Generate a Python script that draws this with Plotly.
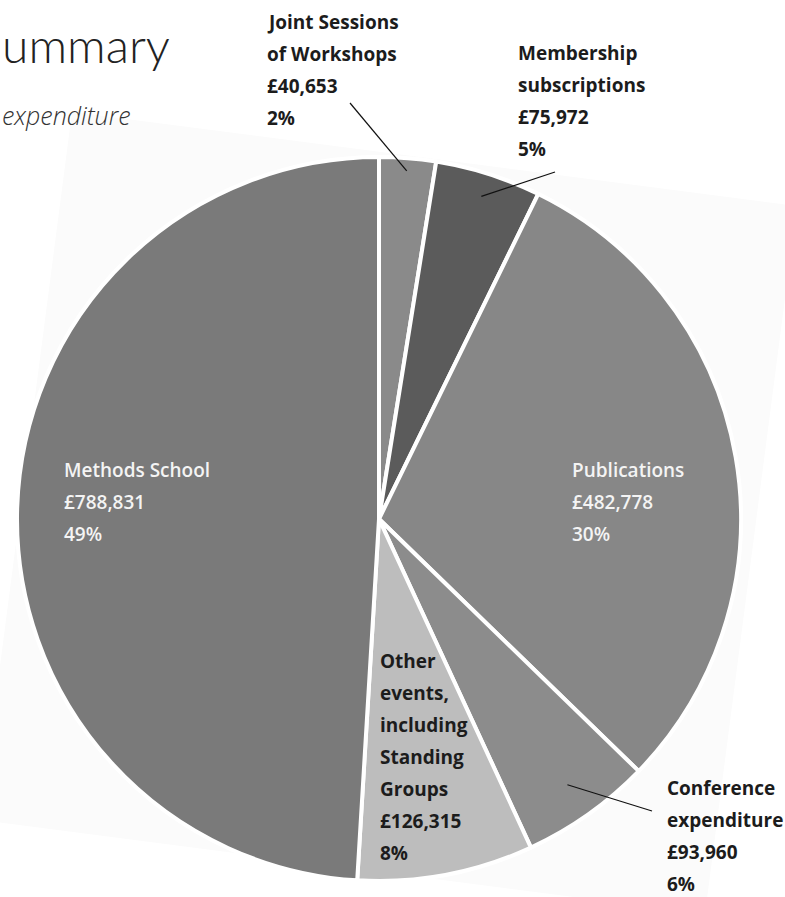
import math
import plotly.graph_objects as go

W, H = 785, 897

# ---- data ----
categories = [
    "Joint Sessions of Workshops",
    "Membership subscriptions",
    "Publications",
    "Conference expenditure",
    "Other events, including Standing Groups",
    "Methods School",
]
label_lines = [
    ["Joint Sessions", "of Workshops"],
    ["Membership", "subscriptions"],
    ["Publications"],
    ["Conference", "expenditure"],
    ["Other", "events,", "including", "Standing", "Groups"],
    ["Methods School"],
]
amounts = [40653, 75972, 482778, 93960, 126315, 788831]
percent_labels = [2, 5, 30, 6, 8, 49]

# ---- styling ----
slice_colors = ["#8a8a8a", "#5b5b5b", "#878787", "#8c8c8c", "#bdbdbd", "#7a7a7a"]
label_inside = [False, False, True, False, False, True]
# left edge / first-line centre of each label block (pixels from top-left)
label_pos = [(265, 22), (516, 53), (570, 470), (665, 788), (378, 661), (62, 470)]
# leader lines: outer end near the label, inner end placed on the slice's mid-angle
leader_outer = {0: (350, 103), 1: (555, 172), 3: (652, 811)}
leader_depth = {0: 0.965, 1: 0.935, 3: 0.90}
LINE_STEP = 32

CX, CY, R = 379, 519, 362
FONT = "Open Sans"


def px(x, y):
    return x / W, 1 - y / H


fig = go.Figure()

fig.add_trace(go.Pie(
    labels=categories,
    values=amounts,
    sort=False,
    direction="clockwise",
    rotation=0,
    textinfo="none",
    hoverinfo="label+value+percent",
    marker=dict(colors=slice_colors, line=dict(color="white", width=4)),
    domain=dict(x=[(CX - R) / W, (CX + R) / W],
                y=[(H - CY - R) / H, (H - CY + R) / H]),
    showlegend=False,
))

# faint rotated card behind the chart
card = [(72, 112), (797, 206), (705, 914), (-20, 820)]
path = "M " + " L ".join(f"{px(x, y)[0]:.5f},{px(x, y)[1]:.5f}" for x, y in card) + " Z"
shapes = [dict(type="path", path=path, xref="paper", yref="paper",
               fillcolor="#fbfbfb", line=dict(width=0), layer="below")]

# leader lines
total = sum(amounts)
cum = 0
mids = []
for v in amounts:
    mids.append((cum + v / 2) / total * 2 * math.pi)
    cum += v
for i, (ox, oy) in leader_outer.items():
    a = mids[i]
    rr = R * leader_depth[i]
    ix, iy = CX + rr * math.sin(a), CY - rr * math.cos(a)
    x0, y0 = px(ox, oy)
    x1, y1 = px(ix, iy)
    shapes.append(dict(type="line", xref="paper", yref="paper",
                       x0=x0, y0=y0, x1=x1, y1=y1,
                       line=dict(color="#111111", width=1.2)))

annotations = []
for i, lines in enumerate(label_lines):
    texts = lines + [f"£{amounts[i]:,}", f"{percent_labels[i]}%"]
    lx, ly = label_pos[i]
    if label_inside[i]:
        font = dict(family=FONT, size=19, color="#f4f4f4", weight=600)
    else:
        font = dict(family=FONT, size=19, color="#1c1c1c", weight="bold")
    for k, t in enumerate(texts):
        x, y = px(lx, ly + k * LINE_STEP)
        annotations.append(dict(text=t, x=x, y=y, xref="paper", yref="paper",
                                xanchor="left", yanchor="middle", showarrow=False,
                                font=font))

# heading
x, y = px(172, 44)
annotations.append(dict(text="ummary", x=x, y=y, xref="paper", yref="paper",
                        xanchor="right", yanchor="middle", showarrow=False,
                        font=dict(family="Lato", size=48, color="#222222", weight=300)))
x, y = px(0, 115)
annotations.append(dict(text="<i>expenditure</i>", x=x, y=y, xref="paper", yref="paper",
                        xanchor="left", yanchor="middle", showarrow=False,
                        font=dict(family="Open Sans", size=25, color="#333333", weight=300)))

fig.update_layout(
    width=W, height=H,
    margin=dict(l=0, r=0, t=0, b=0),
    paper_bgcolor="white",
    plot_bgcolor="white",
    shapes=shapes,
    annotations=annotations,
)

fig.write_html("out.html")
